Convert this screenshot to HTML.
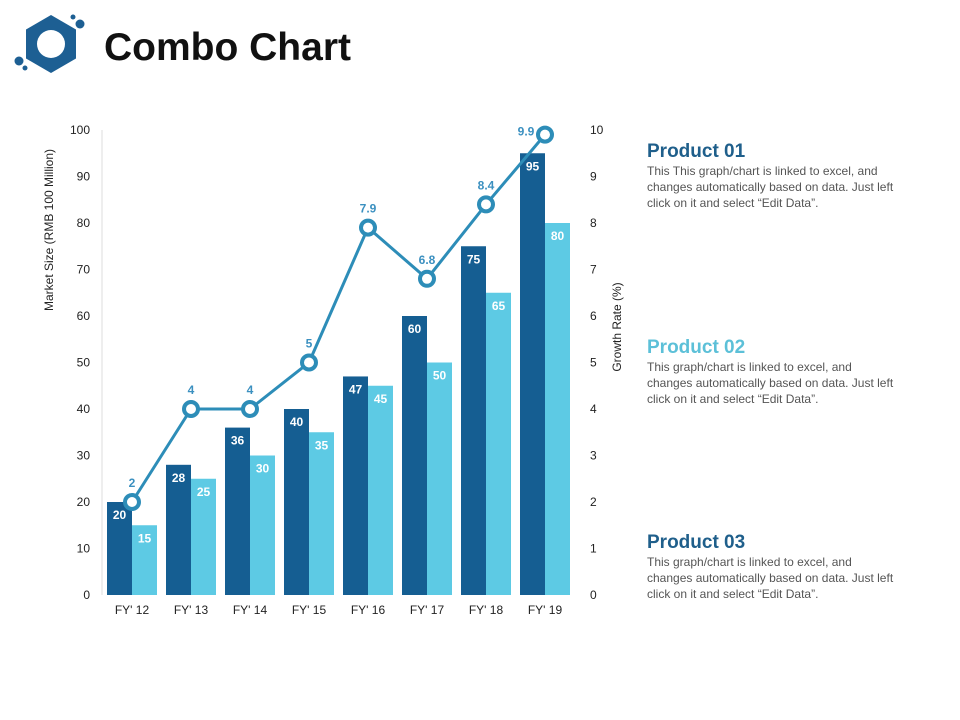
<!DOCTYPE html>
<html><head><meta charset="utf-8"><style>
body{margin:0;width:960px;height:720px;background:#fff;font-family:"Liberation Sans",sans-serif;overflow:hidden;position:relative}
.t{position:absolute}
h1{position:absolute;left:104px;top:26px;margin:0;font-size:39px;font-weight:bold;color:#111}
.ph{font-size:19px;font-weight:bold}
.pd{font-size:12px;color:#555;line-height:16px;width:268px}
</style></head><body>
<svg class="t" style="left:0;top:0" width="100" height="90">
<polygon points="51,15 76,29.5 76,58.5 51,73 26,58.5 26,29.5" fill="#1d5f93"/>
<circle cx="51" cy="44" r="14" fill="#fff"/>
<circle cx="80" cy="24" r="4.5" fill="#1d5f93"/><circle cx="73" cy="17" r="2.5" fill="#1d5f93"/>
<circle cx="19" cy="61" r="4.5" fill="#1d5f93"/><circle cx="25" cy="68" r="2.5" fill="#1d5f93"/>
</svg>
<h1>Combo Chart</h1>
<svg id="c" class="t" style="left:0;top:0" width="640" height="720"></svg>
<div class="t" style="left:647px;top:141px">
<div class="ph" style="color:#1f5f8b">Product 01</div>
<div class="pd">This This graph/chart is linked to excel, and<br>changes automatically based on data. Just left click on it and select “Edit Data”.</div></div>
<div class="t" style="left:647px;top:337px">
<div class="ph" style="color:#5cc0d8">Product 02</div>
<div class="pd">This graph/chart is linked to excel, and<br>changes automatically based on data. Just left click on it and select “Edit Data”.</div></div>
<div class="t" style="left:647px;top:532px">
<div class="ph" style="color:#1f5f8b">Product 03</div>
<div class="pd">This graph/chart is linked to excel, and<br>changes automatically based on data. Just left click on it and select “Edit Data”.</div></div>
<script>
const categories=["FY' 12","FY' 13","FY' 14","FY' 15","FY' 16","FY' 17","FY' 18","FY' 19"];
const product1=[20,28,36,40,47,60,75,95];
const product2=[15,25,30,35,45,50,65,80];
const growth=[2,4,4,5,7.9,6.8,8.4,9.9];
const leftTicks=[0,10,20,30,40,50,60,70,80,90,100];
const rightTicks=[0,1,2,3,4,5,6,7,8,9,10];
const NS="http://www.w3.org/2000/svg",svg=document.getElementById('c');
const X0=102,STEP=59,Y0=595,YT=130;
const yL=v=>Y0-(v/100)*(Y0-YT), yR=v=>Y0-(v/10)*(Y0-YT), xc=i=>X0+STEP*i+30;
function mk(tag,a,txt){const e=document.createElementNS(NS,tag);for(const k in a)e.setAttribute(k,a[k]);if(txt!==undefined)e.textContent=txt;svg.appendChild(e);return e;}
let e=mk('line',{x1:X0,y1:YT,x2:X0,y2:Y0,stroke:'#ddd'});

leftTicks.forEach(v=>{const t=mk('text',{x:90,y:yL(v)+4,'text-anchor':'end','font-size':12,fill:'#222'},v);
});
rightTicks.forEach(v=>{const t=mk('text',{x:590,y:yR(v)+4,'font-size':12,fill:'#222'},v);
});
e=mk('text',{transform:'translate(53,230) rotate(-90)','text-anchor':'middle','font-size':12,fill:'#222'},'Market Size (RMB 100 Million)');

e=mk('text',{transform:'translate(621,327) rotate(-90)','text-anchor':'middle','font-size':12,fill:'#222'},'Growth Rate (%)');

categories.forEach((c,i)=>{
 const x=xc(i);
 let b=mk('rect',{x:x-25,y:yL(product1[i]),width:25,height:Y0-yL(product1[i]),fill:'#155e92'});
 
 b=mk('rect',{x:x,y:yL(product2[i]),width:25,height:Y0-yL(product2[i]),fill:'#5dcae4'});
 
 let t=mk('text',{x:x-12.5,y:yL(product1[i])+17,'text-anchor':'middle','font-size':12,'font-weight':'bold',fill:'#fff'},product1[i]);
 
 t=mk('text',{x:x+12.5,y:yL(product2[i])+17,'text-anchor':'middle','font-size':12,'font-weight':'bold',fill:'#fff'},product2[i]);
 
 t=mk('text',{x:x,y:614,'text-anchor':'middle','font-size':12,fill:'#222'},c);
 
});
e=mk('polyline',{points:growth.map((g,i)=>xc(i)+','+yR(g)).join(' '),fill:'none',stroke:'#2d8db8','stroke-width':3});

growth.forEach((g,i)=>{
 const last=i===growth.length-1;
 let p=mk('circle',{cx:xc(i),cy:yR(g),r:7,fill:'#fff',stroke:'#2d8db8','stroke-width':4});
 
 let t=mk('text',{x:last?xc(i)-19:xc(i),y:last?yR(g)+1:yR(g)-15,'text-anchor':'middle','font-size':12,'font-weight':'bold',fill:'#3b90c0'},g);
 
});
</script>
</body></html>
